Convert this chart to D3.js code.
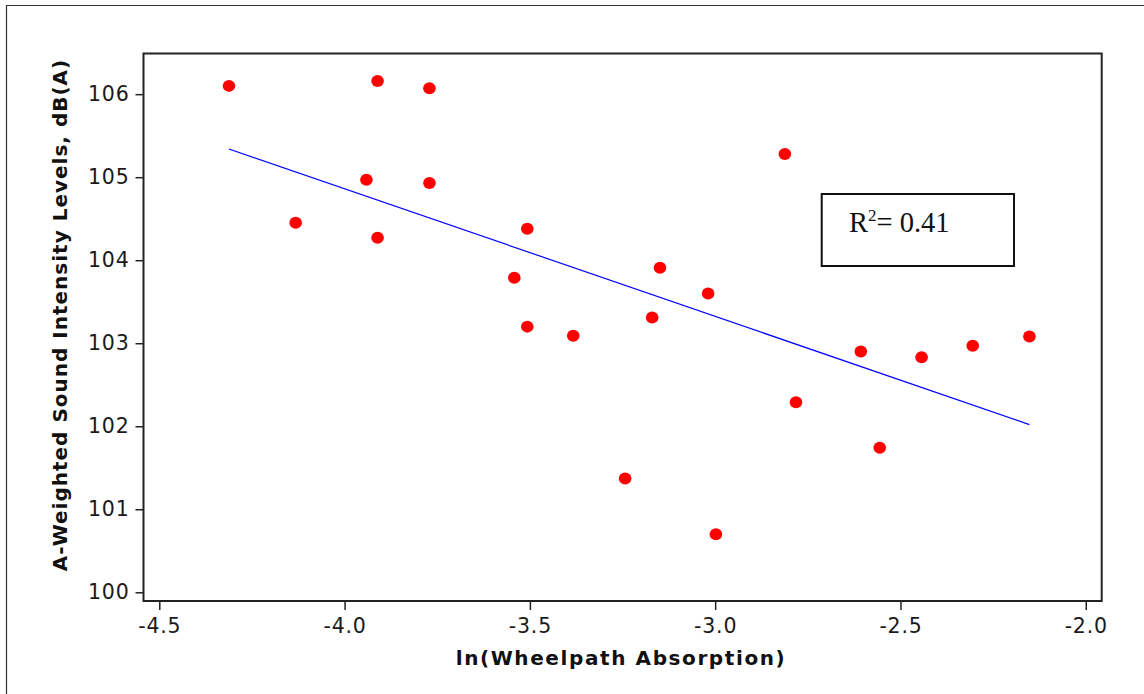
<!DOCTYPE html>
<html><head><meta charset="utf-8">
<script src="https://cdn.jsdelivr.net/npm/d3@7"></script>
<style>html,body{margin:0;padding:0;background:#fff;}svg{display:block;}</style>
</head><body>
<svg id="c" width="1144" height="694"></svg>
<script>
const absorption = [-4.312,-3.911,-3.771,-4.132,-3.941,-3.771,-3.911,-3.507,-3.542,-3.507,-3.383,-3.149,-3.170,-3.019,-3.243,-2.998,-2.812,-2.782,-2.607,-2.556,-2.443,-2.305,-2.152];
const soundLevel = [106.10,106.16,106.07,104.45,104.97,104.93,104.27,104.38,103.79,103.20,103.09,103.91,103.31,103.60,101.37,100.70,105.28,102.29,102.90,101.74,102.83,102.97,103.08];
const trendX = [-4.312, -2.152];
const trendY = [105.34, 102.02];
const xTicks = [-4.5,-4.0,-3.5,-3.0,-2.5,-2.0];
const yTicks = [100,101,102,103,104,105,106];
const rSquared = "0.41";

const svg = d3.select("#c");
const L=143.5, R=1101.7, T=53.5, B=601;
const x = d3.scaleLinear().domain([-4.5426,-1.957]).range([L,R]);
const y = d3.scaleLinear().domain([99.895,106.49]).range([B,T]);

svg.append("path").attr("d","M6.5,694 V5.5 H1144").attr("fill","none").attr("stroke","#333").attr("stroke-width",1.2);

const font = "'DejaVu Sans', Verdana, sans-serif";
const xa = svg.append("g").attr("transform",`translate(0,${B})`)
  .call(d3.axisBottom(x).tickValues(xTicks).tickFormat(d3.format(".1f")).tickSize(9).tickPadding(8));
const ya = svg.append("g").attr("transform",`translate(${L},0)`)
  .call(d3.axisLeft(y).tickValues(yTicks).tickFormat(d3.format("d")).tickSize(8).tickPadding(6));
[xa,ya].forEach(a=>{
  a.select(".domain").remove();
  a.selectAll("line").attr("stroke","#222").attr("stroke-width",1.5);
  a.selectAll("text").attr("font-family",font).attr("font-size",20.5).attr("fill","#1a1a1a").attr("letter-spacing","0.8px");
});
xa.selectAll("text").text(d=>d3.format(".1f")(d).replace("−","-"));

svg.append("rect").attr("x",L).attr("y",T).attr("width",R-L).attr("height",B-T)
  .attr("fill","none").attr("stroke","#222").attr("stroke-width",2);

svg.append("line").attr("x1",x(trendX[0])).attr("y1",y(trendY[0])).attr("x2",x(trendX[1])).attr("y2",y(trendY[1]))
  .attr("stroke","#0000ff").attr("stroke-width",1.2);

svg.append("g").selectAll("ellipse").data(absorption.map((a,i)=>[a,soundLevel[i]])).join("ellipse")
  .attr("cx",d=>x(d[0])).attr("cy",d=>y(d[1])).attr("rx",6.3).attr("ry",6).attr("fill","#ff0000");

svg.append("rect").attr("x",821.7).attr("y",194).attr("width",192.3).attr("height",72)
  .attr("fill","#fff").attr("stroke","#111").attr("stroke-width",2);
const rt = svg.append("text").attr("x",849).attr("y",232).attr("font-family","'Liberation Serif','Times New Roman',serif").attr("font-size",28.5).attr("fill","#111");
rt.append("tspan").text("R");
rt.append("tspan").attr("font-size",17).attr("dy",-11).text("2");
rt.append("tspan").attr("dy",11).text("= " + rSquared);

svg.append("text").attr("x",621).attr("y",665).attr("text-anchor","middle")
  .attr("font-family",font).attr("font-weight","bold").attr("font-size",20).attr("letter-spacing","1.6px").attr("fill","#111")
  .text("ln(Wheelpath Absorption)");
svg.append("text").attr("transform","translate(67,315) rotate(-90)").attr("text-anchor","middle")
  .attr("font-family",font).attr("font-weight","bold").attr("font-size",20).attr("letter-spacing","1px").attr("fill","#111")
  .text("A-Weighted Sound Intensity Levels, dB(A)");
</script>
</body></html>
